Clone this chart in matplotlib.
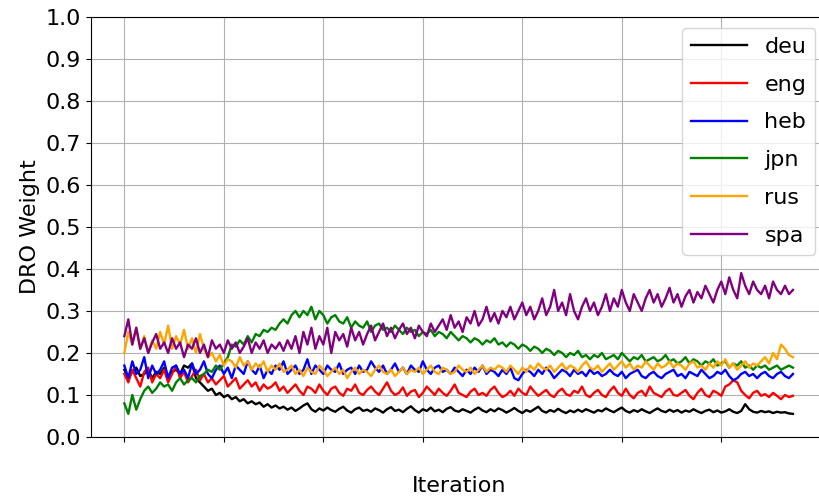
import matplotlib
matplotlib.use('Agg')
import matplotlib.pyplot as plt
import numpy as np

# DRO weight per language, logged every 4 iterations
step = 4

deu = [0.16,0.14,0.155,0.165,0.145,0.15,0.16,0.14,0.155,0.15,0.165,0.145,0.155,0.16,0.15,0.17,0.165,0.175,0.14,0.13,
       0.12,0.11,0.115,0.10,0.105,0.095,0.10,0.09,0.095,0.085,0.09,0.08,0.085,0.078,0.082,0.072,0.078,0.07,0.075,0.068,
       0.072,0.065,0.07,0.062,0.068,0.075,0.08,0.066,0.06,0.068,0.063,0.07,0.064,0.06,0.067,0.072,0.063,0.058,0.066,0.07,
       0.062,0.065,0.06,0.068,0.064,0.058,0.066,0.071,0.062,0.065,0.059,0.067,0.073,0.064,0.058,0.066,0.062,0.07,0.061,0.065,
       0.059,0.067,0.071,0.063,0.06,0.066,0.062,0.058,0.065,0.07,0.063,0.059,0.066,0.061,0.068,0.064,0.058,0.063,0.069,0.062,
       0.057,0.064,0.06,0.066,0.072,0.062,0.058,0.064,0.06,0.067,0.061,0.057,0.063,0.059,0.065,0.06,0.066,0.062,0.058,0.064,
       0.061,0.068,0.063,0.059,0.065,0.07,0.062,0.058,0.064,0.06,0.066,0.061,0.057,0.063,0.068,0.062,0.059,0.065,0.06,0.064,
       0.058,0.063,0.06,0.066,0.061,0.057,0.062,0.065,0.059,0.063,0.058,0.061,0.066,0.06,0.057,0.062,0.078,0.066,0.06,0.058,
       0.062,0.059,0.061,0.057,0.06,0.058,0.059,0.056,0.055]
eng = [0.15,0.13,0.16,0.14,0.12,0.155,0.165,0.13,0.15,0.14,0.16,0.13,0.15,0.17,0.14,0.155,0.13,0.145,0.16,0.135,
       0.15,0.13,0.14,0.125,0.135,0.145,0.12,0.13,0.14,0.115,0.125,0.135,0.12,0.13,0.11,0.125,0.115,0.12,0.13,0.11,
       0.12,0.105,0.115,0.125,0.11,0.10,0.12,0.115,0.105,0.125,0.11,0.10,0.115,0.12,0.105,0.098,0.115,0.11,0.125,0.105,
       0.10,0.112,0.12,0.108,0.10,0.115,0.13,0.11,0.10,0.105,0.118,0.098,0.108,0.112,0.095,0.105,0.12,0.11,0.10,0.115,
       0.105,0.098,0.11,0.125,0.105,0.10,0.095,0.108,0.115,0.10,0.105,0.098,0.112,0.12,0.105,0.095,0.10,0.11,0.098,0.115,
       0.105,0.10,0.12,0.108,0.098,0.105,0.112,0.10,0.095,0.108,0.115,0.102,0.098,0.11,0.105,0.12,0.10,0.095,0.105,0.112,
       0.10,0.095,0.11,0.12,0.105,0.098,0.115,0.10,0.092,0.105,0.11,0.098,0.12,0.105,0.10,0.095,0.108,0.115,0.10,0.098,
       0.105,0.112,0.098,0.09,0.105,0.115,0.10,0.095,0.11,0.105,0.098,0.12,0.125,0.135,0.13,0.11,0.10,0.092,0.105,0.11,
       0.098,0.102,0.095,0.105,0.098,0.09,0.10,0.095,0.098]
heb = [0.17,0.14,0.18,0.15,0.16,0.19,0.14,0.17,0.15,0.16,0.18,0.14,0.165,0.17,0.15,0.16,0.14,0.175,0.15,0.16,
       0.18,0.15,0.14,0.16,0.17,0.15,0.165,0.14,0.17,0.16,0.15,0.18,0.16,0.15,0.17,0.14,0.16,0.15,0.17,0.16,
       0.18,0.15,0.16,0.17,0.15,0.16,0.185,0.15,0.17,0.16,0.15,0.17,0.16,0.155,0.175,0.15,0.16,0.165,0.15,0.17,
       0.155,0.16,0.18,0.165,0.155,0.17,0.15,0.16,0.175,0.155,0.165,0.15,0.17,0.16,0.155,0.18,0.16,0.15,0.165,0.17,
       0.155,0.16,0.15,0.165,0.155,0.145,0.16,0.15,0.165,0.155,0.17,0.15,0.16,0.155,0.145,0.16,0.15,0.165,0.14,0.135,
       0.15,0.16,0.155,0.145,0.16,0.15,0.165,0.155,0.14,0.15,0.16,0.155,0.145,0.16,0.15,0.155,0.145,0.16,0.15,0.155,
       0.145,0.15,0.16,0.15,0.145,0.155,0.14,0.15,0.155,0.16,0.145,0.14,0.15,0.155,0.145,0.14,0.15,0.155,0.16,0.145,
       0.15,0.14,0.155,0.15,0.145,0.16,0.15,0.14,0.145,0.155,0.15,0.16,0.145,0.135,0.14,0.15,0.155,0.145,0.15,0.14,
       0.15,0.155,0.145,0.14,0.15,0.155,0.145,0.14,0.15]
jpn = [0.08,0.055,0.10,0.065,0.09,0.11,0.12,0.105,0.115,0.13,0.12,0.125,0.11,0.13,0.14,0.125,0.135,0.14,0.13,0.145,
       0.15,0.16,0.155,0.17,0.16,0.175,0.19,0.22,0.215,0.23,0.22,0.24,0.225,0.245,0.24,0.255,0.25,0.26,0.255,0.27,
       0.28,0.27,0.29,0.30,0.285,0.30,0.29,0.31,0.28,0.30,0.29,0.27,0.285,0.29,0.275,0.27,0.285,0.26,0.275,0.265,
       0.26,0.275,0.25,0.265,0.27,0.255,0.26,0.25,0.265,0.255,0.245,0.26,0.25,0.255,0.24,0.25,0.245,0.255,0.24,0.25,
       0.245,0.235,0.25,0.24,0.23,0.24,0.235,0.225,0.235,0.23,0.22,0.23,0.225,0.235,0.22,0.225,0.215,0.225,0.22,0.21,
       0.22,0.215,0.205,0.215,0.21,0.20,0.21,0.205,0.195,0.205,0.20,0.19,0.20,0.195,0.205,0.19,0.195,0.185,0.195,0.19,
       0.20,0.185,0.19,0.195,0.185,0.20,0.19,0.18,0.19,0.185,0.195,0.18,0.185,0.19,0.18,0.185,0.195,0.18,0.185,0.175,
       0.18,0.19,0.175,0.185,0.18,0.17,0.18,0.175,0.185,0.17,0.175,0.18,0.165,0.175,0.17,0.18,0.165,0.17,0.16,0.17,
       0.165,0.17,0.16,0.165,0.17,0.16,0.165,0.17,0.165]
rus = [0.20,0.25,0.22,0.26,0.21,0.24,0.20,0.23,0.21,0.25,0.22,0.265,0.21,0.24,0.22,0.255,0.21,0.235,0.20,0.245,
       0.21,0.19,0.20,0.18,0.195,0.17,0.185,0.18,0.165,0.19,0.17,0.18,0.16,0.175,0.165,0.18,0.155,0.17,0.16,0.175,
       0.155,0.16,0.17,0.15,0.16,0.145,0.165,0.155,0.15,0.17,0.16,0.145,0.155,0.165,0.15,0.16,0.14,0.155,0.165,0.15,
       0.16,0.155,0.145,0.16,0.17,0.155,0.15,0.16,0.145,0.155,0.165,0.15,0.16,0.155,0.165,0.15,0.16,0.17,0.155,0.15,
       0.165,0.16,0.15,0.155,0.17,0.16,0.155,0.165,0.15,0.16,0.17,0.155,0.165,0.16,0.17,0.165,0.155,0.17,0.16,0.15,
       0.165,0.155,0.17,0.16,0.175,0.165,0.16,0.17,0.155,0.165,0.175,0.16,0.17,0.165,0.155,0.17,0.18,0.165,0.16,0.17,
       0.155,0.165,0.175,0.16,0.17,0.18,0.165,0.175,0.16,0.17,0.165,0.18,0.17,0.16,0.175,0.165,0.17,0.18,0.165,0.175,
       0.17,0.16,0.175,0.18,0.165,0.17,0.16,0.175,0.165,0.18,0.17,0.185,0.165,0.175,0.16,0.17,0.18,0.165,0.175,0.17,
       0.18,0.19,0.175,0.20,0.185,0.22,0.21,0.195,0.19]
spa = [0.24,0.28,0.22,0.26,0.21,0.235,0.20,0.225,0.245,0.21,0.225,0.20,0.235,0.21,0.225,0.19,0.22,0.21,0.235,0.20,
       0.22,0.19,0.23,0.21,0.22,0.20,0.23,0.21,0.225,0.20,0.215,0.235,0.20,0.225,0.21,0.23,0.20,0.22,0.21,0.225,
       0.205,0.23,0.21,0.24,0.20,0.25,0.22,0.26,0.21,0.24,0.22,0.26,0.20,0.25,0.23,0.245,0.215,0.26,0.23,0.25,
       0.22,0.245,0.265,0.23,0.25,0.27,0.24,0.26,0.235,0.255,0.27,0.245,0.26,0.235,0.265,0.25,0.24,0.27,0.25,0.265,
       0.28,0.255,0.29,0.26,0.275,0.25,0.285,0.27,0.30,0.265,0.28,0.31,0.275,0.295,0.27,0.30,0.285,0.31,0.28,0.30,
       0.32,0.29,0.31,0.28,0.30,0.33,0.29,0.31,0.35,0.30,0.32,0.29,0.34,0.30,0.28,0.31,0.33,0.30,0.32,0.29,
       0.31,0.34,0.30,0.33,0.31,0.35,0.32,0.30,0.34,0.32,0.30,0.33,0.35,0.32,0.34,0.31,0.33,0.355,0.32,0.34,
       0.31,0.335,0.35,0.32,0.345,0.33,0.36,0.34,0.32,0.35,0.37,0.34,0.38,0.35,0.33,0.39,0.36,0.34,0.37,0.35,
       0.34,0.36,0.33,0.37,0.35,0.34,0.36,0.34,0.35]

languages = ['deu', 'eng', 'heb', 'jpn', 'rus', 'spa']
weights = [deu, eng, heb, jpn, rus, spa]
colors = ['black', 'red', 'blue', 'green', 'orange', 'purple']

fig = plt.figure(figsize=(8.19, 4.96), dpi=100)
ax = fig.add_axes([0.111, 0.119, 0.898, 0.847])

for name, w, c in zip(languages, weights, colors):
	x = np.arange(len(w)) * step
	ax.plot(x, w, color=c, linewidth=1.7, label=name)

ax.set_xlim(-33.6, 705.6)
ax.set_ylim(0, 1)
yt = np.arange(0, 1.01, 0.1)
ax.set_yticks(yt)
ax.set_yticklabels(['{:.1f}'.format(v) for v in yt], fontsize=16)
ax.set_xticks(np.arange(0, 701, 100))
ax.set_xticklabels([])
ax.grid(True)
ax.set_xlabel('Iteration', fontsize=16, labelpad=21)
ax.set_ylabel('DRO Weight', fontsize=16)
ax.legend(loc='upper right', fontsize=16, labelspacing=0.8, handlelength=2.5)

plt.savefig('out.png', dpi=100)
